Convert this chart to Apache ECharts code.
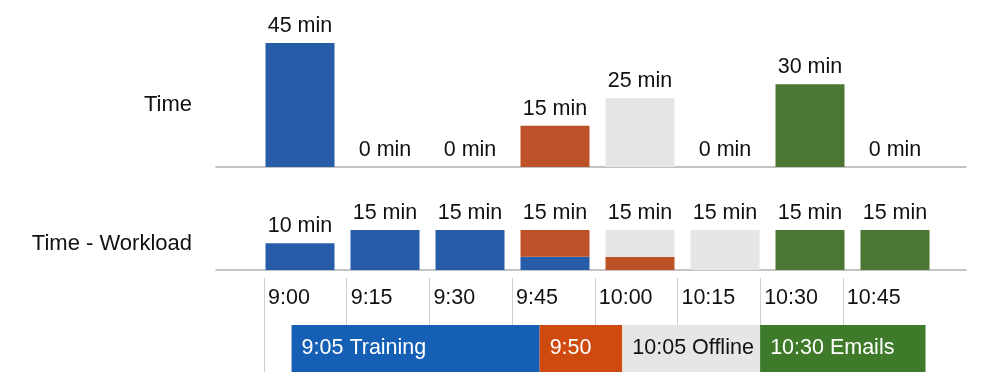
<!DOCTYPE html>
<html>
<head>
<meta charset="utf-8">
<script src="https://cdn.jsdelivr.net/npm/echarts@6/dist/echarts.min.js"></script>
<style>html,body{margin:0;padding:0;background:#fff}#c{width:1000px;height:385px}</style>
</head>
<body>
<div id="c"></div>
<script>
// ---- data ----
const slots = ['9:00', '9:15', '9:30', '9:45', '10:00', '10:15', '10:30', '10:45'];
const slotActivity = ['Training', 'Training', 'Training', 'Break', 'Offline', 'Offline', 'Emails', 'Emails'];
const timeValues = [45, 0, 0, 15, 25, 0, 30, 0];
const workloadTraining = [10, 15, 15, 5, 0, 0, 0, 0];
const workloadBreak = [0, 0, 0, 10, 5, 0, 0, 0];
const workloadOffline = [0, 0, 0, 0, 10, 15, 0, 0];
const workloadEmails = [0, 0, 0, 0, 0, 0, 15, 15];
const tickLabels = ['9:00', '9:15', '9:30', '9:45', '10:00', '10:15', '10:30', '10:45'];
const segLabels = ['9:05 Training', '9:50', '10:05 Offline', '10:30 Emails'];
const segActivity = ['Training', 'Break', 'Offline', 'Emails'];
const segStart = [5, 50, 65, 90];   // minutes after 9:00
const segEnd = [50, 65, 90, 120];

// ---- styles ----
const barColor = { Training: '#275DA8', Break: '#BD5228', Offline: '#E6E6E6', Emails: '#4B7634' };
const segColor = { Training: '#1560B4', Break: '#CE4A0E', Offline: '#E6E6E6', Emails: '#3E7A2A' };
const segText = { Training: '#fff', Break: '#fff', Offline: '#111', Emails: '#fff' };
const FONT = 'Liberation Sans, Arial, Helvetica, sans-serif';
const FS = 21.5;

const workloadTotals = slots.map((_, i) => workloadTraining[i] + workloadBreak[i] + workloadOffline[i] + workloadEmails[i]);

const catAxis = (g) => ({
  type: 'category', gridIndex: g, data: slots,
  axisLine: { show: false }, axisTick: { show: false }, axisLabel: { show: false }, splitLine: { show: false }
});
const lineAxis = (g) => ({
  type: 'value', gridIndex: g, min: 0, max: 1,
  axisLine: { show: true, onZero: false, lineStyle: { color: '#b0b0b0', width: 1.5 } },
  axisTick: { show: false }, axisLabel: { show: false }, splitLine: { show: false }
});
const hiddenY = (g) => ({ type: 'value', gridIndex: g, min: 0, max: 1, show: false });
const nameAxis = (g, name, max) => ({
  type: 'value', gridIndex: g, min: 0, max: max,
  name: name, nameLocation: 'middle', nameRotate: 0, nameGap: 65.5,
  nameTextStyle: { fontSize: 22, color: '#111', fontFamily: FONT, align: 'right' },
  axisLine: { show: false }, axisTick: { show: false }, axisLabel: { show: false }, splitLine: { show: false }
});
const minLabel = {
  show: true, position: 'top', distance: 6, fontSize: FS, color: '#111', fontFamily: FONT,
  formatter: p => p.value + ' min'
};

const series = [];
series.push({
  name: 'Time', type: 'bar', xAxisIndex: 0, yAxisIndex: 0, barWidth: 69,
  data: timeValues.map((v, i) => ({ value: v, itemStyle: { color: barColor[slotActivity[i]] } })),
  label: minLabel
});
const wlSets = [['Training', workloadTraining], ['Break', workloadBreak], ['Offline', workloadOffline], ['Emails', workloadEmails]];
wlSets.forEach(([k, arr]) => {
  series.push({
    name: k, type: 'bar', xAxisIndex: 1, yAxisIndex: 1, stack: 'wl', barWidth: 69,
    itemStyle: { color: barColor[k] },
    data: arr
  });
});
series.push({
  name: 'Total', type: 'bar', xAxisIndex: 1, yAxisIndex: 1, barWidth: 69, barGap: '-100%',
  itemStyle: { color: 'rgba(0,0,0,0)' }, z: 1,
  data: workloadTotals, label: minLabel
});
// timeline
series.push({
  name: 'offset', type: 'bar', xAxisIndex: 2, yAxisIndex: 2, stack: 'tl', barWidth: 47,
  itemStyle: { color: 'rgba(0,0,0,0)' }, data: [segStart[0]], silent: true
});
segLabels.forEach((lab, i) => {
  const a = segActivity[i];
  series.push({
    name: lab, type: 'bar', xAxisIndex: 2, yAxisIndex: 2, stack: 'tl', barWidth: 47,
    itemStyle: { color: segColor[a] },
    data: [segEnd[i] - segStart[i]],
    label: { show: true, position: 'insideLeft', distance: 10, formatter: lab, fontSize: FS, color: segText[a], fontFamily: FONT }
  });
});

const chart = echarts.init(document.getElementById('c'), null, { renderer: 'canvas' });
chart.setOption({
  animation: false,
  backgroundColor: '#fff',
  textStyle: { fontFamily: FONT },
  grid: [
    { left: 257.5, width: 680, top: 43, height: 124 },
    { left: 257.5, width: 680, top: 218, height: 52 },
    { left: 264, width: 661.5, top: 278, height: 94 },
    { left: 216, right: 34, top: 43, height: 124 },
    { left: 216, right: 34, top: 218, height: 52 }
  ],
  xAxis: [
    catAxis(0),
    catAxis(1),
    {
      type: 'value', gridIndex: 2, position: 'top', min: 0, max: 120, interval: 15,
      axisLine: { show: false }, axisTick: { show: false },
      axisLabel: { inside: true, showMaxLabel: false, align: 'left', margin: 9, padding: [0, 0, 0, 4], fontSize: FS, color: '#111', fontFamily: FONT,
        formatter: v => tickLabels[v / 15] || '' },
      splitLine: { show: true, showMaxLine: false, lineStyle: { color: '#cfcfcf', width: 1 } }
    },
    lineAxis(3),
    lineAxis(4)
  ],
  yAxis: [
    nameAxis(0, 'Time', 45),
    nameAxis(1, 'Time - Workload', 19.5),
    { type: 'category', gridIndex: 2, data: ['tl', ''], show: false },
    hiddenY(3),
    hiddenY(4)
  ],
  series: series
});
</script>
</body>
</html>
